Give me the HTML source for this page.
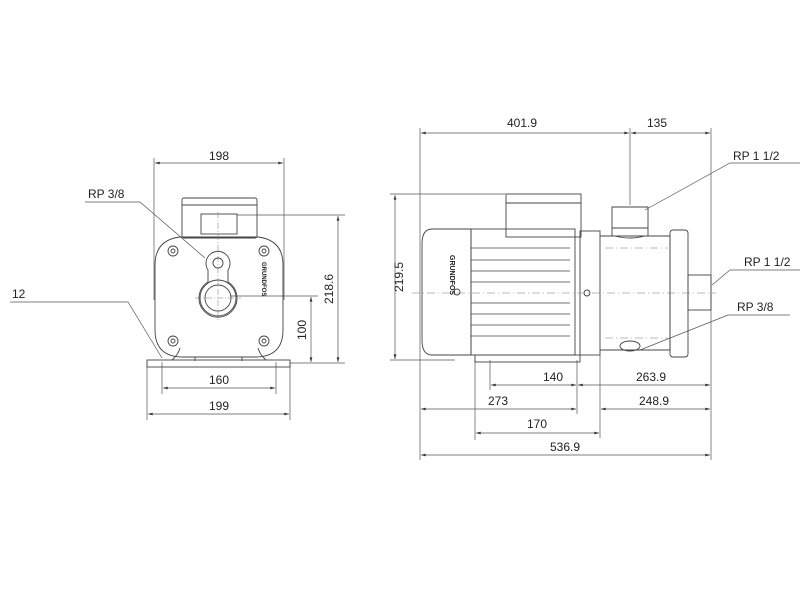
<!DOCTYPE html>
<html><head><meta charset="utf-8"><style>
html,body{margin:0;padding:0;background:#fff}
svg{display:block}
text{font-family:"Liberation Sans",Arial,sans-serif;font-size:12px;fill:#222}
</style></head><body>
<svg width="800" height="600" viewBox="0 0 800 600" xmlns="http://www.w3.org/2000/svg">
<defs>
<marker id="a" viewBox="0 0 10 6" refX="10" refY="3" markerWidth="7" markerHeight="4" orient="auto-start-reverse"><path d="M0,0L10,3L0,6z" fill="#333"/></marker>
</defs>
<g stroke="#555" stroke-width="0.7" fill="none">
<!-- FRONT VIEW -->
<line x1="154" y1="158" x2="154" y2="300"/>
<line x1="284" y1="158" x2="284" y2="300"/>
<line x1="155" y1="163" x2="283" y2="163" marker-start="url(#a)" marker-end="url(#a)"/>
<line x1="147" y1="362" x2="147" y2="420"/>
<line x1="290" y1="362" x2="290" y2="420"/>
<line x1="162" y1="362" x2="162" y2="394"/>
<line x1="276" y1="362" x2="276" y2="394"/>
<line x1="163" y1="388" x2="275" y2="388" marker-start="url(#a)" marker-end="url(#a)"/>
<line x1="148" y1="414" x2="289" y2="414" marker-start="url(#a)" marker-end="url(#a)"/>
<line x1="237" y1="215" x2="345" y2="215"/>
<line x1="230" y1="296" x2="318" y2="296"/>
<line x1="290" y1="363" x2="345" y2="363"/>
<line x1="338" y1="216" x2="338" y2="362" marker-start="url(#a)" marker-end="url(#a)"/>
<line x1="311" y1="297" x2="311" y2="362" marker-start="url(#a)" marker-end="url(#a)"/>
<polyline points="85,202 140,202 205,258"/>
<polyline points="10,302 128,302 162,358"/>
</g>
<g stroke="#444" stroke-width="0.9" fill="none">
<rect x="182" y="198" width="75" height="40" rx="2"/>
<line x1="182" y1="205" x2="257" y2="205"/>
<rect x="201" y="214" width="36" height="20"/>
<path d="M180,237 L258,237 Q283,240 283,265 L283,330 Q283,357 255,357 L183,357 Q155,357 155,330 L155,265 Q155,240 180,237 Z"/>
<rect x="147" y="360" width="143" height="7"/>
<path d="M172,360 Q178,355 180,348 M266,360 Q260,355 258,348"/>
<path d="M195,357 L195,361 M242,357 L242,361"/>
<circle cx="173" cy="251" r="5"/><circle cx="173" cy="251" r="2"/>
<circle cx="264" cy="251" r="5"/><circle cx="264" cy="251" r="2"/>
<circle cx="173" cy="341" r="5"/><circle cx="173" cy="341" r="2"/>
<circle cx="264" cy="341" r="5"/><circle cx="264" cy="341" r="2"/>
<path d="M208,270 A12,12 0 1 1 228,270 L228,282 A19,19 0 1 1 208,282 Z"/>
<circle cx="218" cy="263" r="5"/>
<circle cx="218" cy="298" r="18"/>
<circle cx="218" cy="298" r="13"/>
</g>
<g stroke="#777" stroke-width="0.5" stroke-dasharray="6,2,1,2" fill="none">
<line x1="218" y1="212" x2="218" y2="320"/><line x1="195" y1="298" x2="241" y2="298"/>
</g>
<text transform="translate(262 262) rotate(90)" style="font-size:6px;font-weight:bold">GRUNDFOS</text>
<text x="219" y="160" text-anchor="middle">198</text>
<text x="88" y="198">RP 3/8</text>
<text x="12" y="298">12</text>
<text x="219" y="384" text-anchor="middle">160</text>
<text x="219" y="410" text-anchor="middle">199</text>
<text transform="translate(333 289) rotate(-90)" text-anchor="middle">218.6</text>
<text transform="translate(306 330) rotate(-90)" text-anchor="middle">100</text>

<!-- SIDE VIEW -->
<g stroke="#555" stroke-width="0.7" fill="none">
<line x1="420" y1="128" x2="420" y2="460"/>
<line x1="711" y1="128" x2="711" y2="460"/>
<line x1="630" y1="128" x2="630" y2="205"/>
<line x1="421" y1="133" x2="629" y2="133" marker-start="url(#a)" marker-end="url(#a)"/>
<line x1="631" y1="133" x2="710" y2="133" marker-start="url(#a)" marker-end="url(#a)"/>
<line x1="390" y1="194" x2="505" y2="194"/>
<line x1="390" y1="360" x2="455" y2="360"/>
<line x1="395" y1="195" x2="395" y2="359" marker-start="url(#a)" marker-end="url(#a)"/>
<line x1="475" y1="360" x2="475" y2="440"/>
<line x1="490" y1="360" x2="490" y2="390"/>
<line x1="577" y1="360" x2="577" y2="414"/>
<line x1="600" y1="355" x2="600" y2="438"/>
<line x1="491" y1="385" x2="576" y2="385" marker-start="url(#a)" marker-end="url(#a)"/>
<line x1="578" y1="385" x2="710" y2="385" marker-start="url(#a)" marker-end="url(#a)"/>
<line x1="421" y1="409" x2="576" y2="409" marker-start="url(#a)" marker-end="url(#a)"/>
<line x1="601" y1="409" x2="710" y2="409" marker-start="url(#a)" marker-end="url(#a)"/>
<line x1="476" y1="433" x2="599" y2="433" marker-start="url(#a)" marker-end="url(#a)"/>
<line x1="421" y1="455" x2="710" y2="455" marker-start="url(#a)" marker-end="url(#a)"/>
<polyline points="800,163 730,163 645,210"/>
<polyline points="800,270 730,270 712,285"/>
<polyline points="790,315 728,315 640,350"/>
</g>
<g stroke="#444" stroke-width="0.9" fill="none">
<path d="M432,229 L471,229 L471,355 L432,355 Q422,355 422,340 L422,244 Q422,229 432,229 Z"/>
<rect x="471" y="229" width="104" height="126"/>
<rect x="506" y="194" width="75" height="43"/>
<line x1="506" y1="203" x2="581" y2="203"/>
<g stroke-width="0.7">
<line x1="471" y1="260" x2="570" y2="260"/><line x1="471" y1="271" x2="570" y2="271"/>
<line x1="471" y1="282" x2="570" y2="282"/><line x1="471" y1="303" x2="570" y2="303"/>
<line x1="471" y1="314" x2="570" y2="314"/><line x1="471" y1="325" x2="570" y2="325"/>
<line x1="471" y1="248" x2="570" y2="248"/><line x1="471" y1="336" x2="570" y2="336"/>
</g>
<rect x="475" y="355" width="105" height="7"/>
<rect x="580" y="231" width="20" height="124"/>
<path d="M600,236 L670,236 L670,350 L600,350"/>
<path d="M615,236 Q630,240 645,236 M612,207 L648,207 L648,236 L612,236 Z"/>
<line x1="612" y1="228" x2="648" y2="228"/>
<rect x="670" y="230" width="18" height="127" rx="3"/>
<rect x="688" y="275" width="23" height="35"/>
<ellipse cx="630" cy="346" rx="10" ry="5"/>
<circle cx="587" cy="293" r="3"/>
<circle cx="457" cy="292" r="3"/>
</g>
<g stroke="#777" stroke-width="0.5" stroke-dasharray="8,3,1,3" fill="none">
<line x1="412" y1="293" x2="716" y2="293"/>
<line x1="605" y1="248" x2="668" y2="248"/>
<line x1="605" y1="338" x2="668" y2="338"/>
</g>
<text transform="translate(450 255) rotate(90)" style="font-size:7px;font-weight:bold">GRUNDFOS</text>
<text x="522" y="127" text-anchor="middle">401.9</text>
<text x="657" y="127" text-anchor="middle">135</text>
<text x="733" y="160">RP 1 1/2</text>
<text x="744" y="266">RP 1 1/2</text>
<text x="737" y="311">RP 3/8</text>
<text transform="translate(403 277) rotate(-90)" text-anchor="middle">219.5</text>
<text x="553" y="381" text-anchor="middle">140</text>
<text x="651" y="381" text-anchor="middle">263.9</text>
<text x="498" y="405" text-anchor="middle">273</text>
<text x="654" y="405" text-anchor="middle">248.9</text>
<text x="537" y="428" text-anchor="middle">170</text>
<text x="565" y="451" text-anchor="middle">536.9</text>
</svg>
</body></html>
